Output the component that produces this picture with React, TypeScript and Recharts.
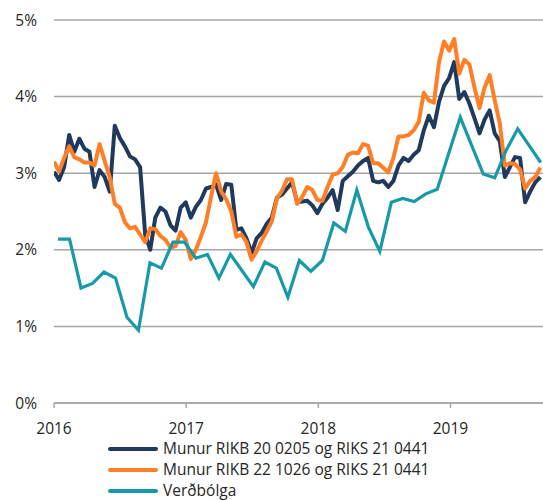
import React from "react";
import { LineChart, Line, XAxis, YAxis, CartesianGrid } from "recharts";

// Munur RIKB 20 0205 og RIKS 21 0441, read every two weeks from Jan 2016
const navyValues = [
  3.02, 2.91, 3.08, 3.5, 3.28, 3.45, 3.32, 3.28, 2.82, 3.04,
  2.95, 2.76, 3.62, 3.46, 3.35, 3.22, 3.18, 3.08, 2.2, 2.0,
  2.42, 2.55, 2.5, 2.32, 2.25, 2.55, 2.62, 2.42, 2.56, 2.65,
  2.8, 2.82, 2.85, 2.65, 2.86, 2.85, 2.26, 2.28, 2.15, 1.96,
  2.15, 2.22, 2.34, 2.42, 2.68, 2.72, 2.8, 2.88, 2.62, 2.63,
  2.64, 2.58, 2.48, 2.6, 2.68, 2.78, 2.52, 2.9, 2.96, 3.02,
  3.1, 3.16, 3.2, 2.9, 2.88, 2.9, 2.82, 2.9, 3.1, 3.2,
  3.16, 3.24, 3.3, 3.56, 3.75, 3.6, 3.93, 4.14, 4.24, 4.45,
  3.97, 4.06, 3.91, 3.72, 3.52, 3.7, 3.82, 3.52, 3.42, 2.95,
  3.08, 3.21, 3.2, 2.62, 2.76, 2.88, 2.95,
];

// Munur RIKB 22 1026 og RIKS 21 0441
const orangeValues = [
  3.15, 3.02, 3.2, 3.35, 3.21, 3.18, 3.14, 3.14, 3.1, 3.38,
  3.16, 2.95, 2.6, 2.55, 2.36, 2.28, 2.3, 2.2, 2.1, 2.28,
  2.27, 2.18, 2.13, 2.03, 2.05, 2.23, 2.13, 1.88, 2.0, 2.17,
  2.36, 2.69, 3.0, 2.76, 2.66, 2.5, 2.17, 2.2, 2.1, 1.87,
  1.98, 2.12, 2.24, 2.37, 2.67, 2.77, 2.92, 2.92, 2.6, 2.69,
  2.82, 2.78, 2.65, 2.64, 2.82, 2.98, 3.0, 3.08, 3.24, 3.27,
  3.26, 3.38, 3.36, 3.13, 3.13, 3.07, 3.01, 3.2, 3.48, 3.48,
  3.5, 3.56, 3.67, 4.05, 3.95, 3.92, 4.45, 4.72, 4.6, 4.75,
  4.3, 4.48, 4.42, 4.12, 3.85, 4.12, 4.28, 3.95, 3.65, 3.1,
  3.13, 3.12, 3.05, 2.8, 2.9, 2.95, 3.07,
];

// Verðbólga, monthly Jan 2016 - Jul 2019
const inflationValues = [
  2.14, 2.14, 1.5, 1.56, 1.71, 1.63, 1.12, 0.95, 1.83, 1.76, 2.1, 2.1,
  1.89, 1.94, 1.63, 1.94, 1.73, 1.52, 1.84, 1.76, 1.38, 1.86, 1.72, 1.86,
  2.35, 2.24, 2.78, 2.3, 1.98, 2.62, 2.67, 2.63, 2.73, 2.79, 3.26, 3.73,
  3.36, 2.99, 2.94, 3.3, 3.58, 3.36, 3.14,
];

const yearTicks = [2016, 2017, 2018, 2019];
const percentTicks = [0, 1, 2, 3, 4, 5];

const START = 2016;
const TWO_WEEKS = 14 / 365.25;

const navyData = navyValues.map((v, i) => ({ x: START + i * TWO_WEEKS, v }));
const orangeData = orangeValues.map((v, i) => ({ x: START + i * TWO_WEEKS, v }));
// monthly points in the source sit a bit wider than calendar months
const inflationData = inflationValues.map((v, i) => ({
  x: START + (i + 0.35) / 11.5,
  v,
}));

const colors = {
  navy: "#1f3a5d",
  orange: "#ff7f27",
  teal: "#169aa8",
  grid: "#a6a6a6",
  text: "#262626",
};

const legendItems = [
  { name: "Munur RIKB 20 0205 og RIKS 21 0441", color: colors.navy },
  { name: "Munur RIKB 22 1026 og RIKS 21 0441", color: colors.orange },
  { name: "Verðbólga", color: colors.teal },
];

const font = "'Open Sans', sans-serif";

export default function App() {
  return (
    <div
      style={{
        position: "absolute",
        left: 0,
        top: 0,
        width: 543,
        height: 500,
        overflow: "hidden",
        background: "#fff",
        fontFamily: font,
      }}
    >
      <LineChart
        width={543}
        height={500}
        margin={{ top: 20, right: 0, left: 0, bottom: 67 }}
      >
        <CartesianGrid
          horizontal={true}
          vertical={false}
          stroke={colors.grid}
          strokeWidth={1.5}
        />
        <XAxis
          type="number"
          dataKey="x"
          domain={[2016, 2019.7]}
          ticks={yearTicks}
          allowDataOverflow
          height={30}
          axisLine={{ stroke: colors.grid, strokeWidth: 1.5 }}
          tickLine={{ stroke: colors.grid, strokeWidth: 1.5 }}
          tickSize={5}
          tickMargin={15}
          tick={{ fill: colors.text, fontSize: 15.5, fontFamily: font }}
        />
        <YAxis
          type="number"
          domain={[0, 5]}
          ticks={percentTicks}
          width={54}
          axisLine={false}
          tickLine={false}
          tickSize={0}
          tickMargin={17}
          tickFormatter={(v) => `${v}%`}
          tick={{ fill: colors.text, fontSize: 15.5, fontFamily: font }}
        />
        <Line
          data={navyData}
          dataKey="v"
          type="linear"
          stroke={colors.navy}
          strokeWidth={4}
          strokeLinejoin="round"
          dot={false}
          isAnimationActive={false}
        />
        <Line
          data={orangeData}
          dataKey="v"
          type="linear"
          stroke={colors.orange}
          strokeWidth={4}
          strokeLinejoin="round"
          dot={false}
          isAnimationActive={false}
        />
        <Line
          data={inflationData}
          dataKey="v"
          type="linear"
          stroke={colors.teal}
          strokeWidth={3.2}
          dot={false}
          isAnimationActive={false}
        />
      </LineChart>
      <div style={{ position: "absolute", left: 108, top: 438 }}>
        {legendItems.map((item) => (
          <div
            key={item.name}
            style={{ display: "flex", alignItems: "center", height: 21 }}
          >
            <span
              style={{
                display: "inline-block",
                width: 50,
                height: 4,
                borderRadius: 2,
                background: item.color,
                marginRight: 5,
              }}
            />
            <span style={{ fontSize: 15.5, color: colors.text, lineHeight: "21px" }}>
              {item.name}
            </span>
          </div>
        ))}
      </div>
    </div>
  );
}
